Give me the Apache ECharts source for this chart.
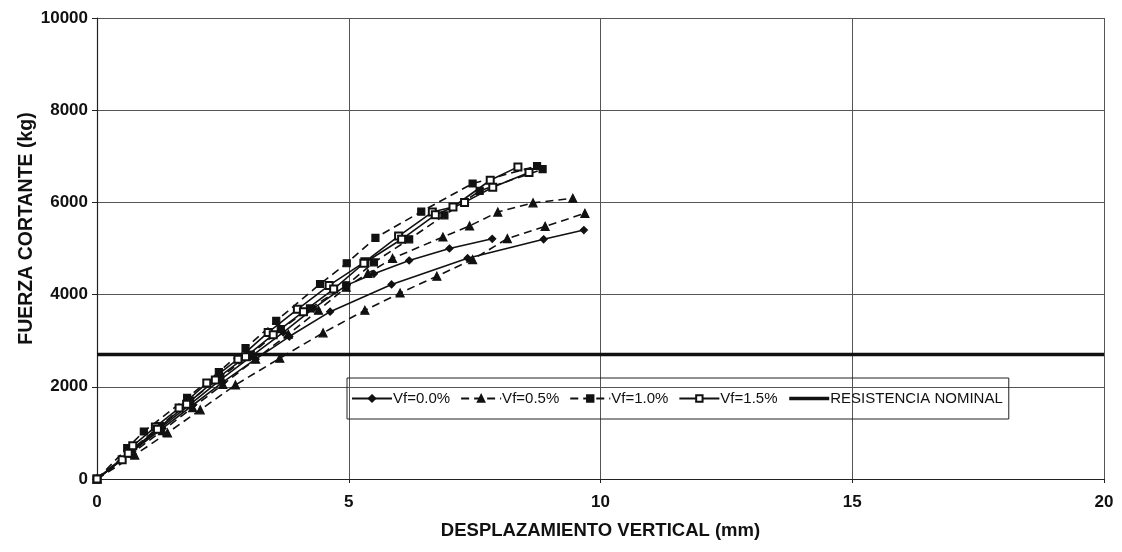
<!DOCTYPE html>
<html>
<head>
<meta charset="utf-8">
<script src="https://cdn.jsdelivr.net/npm/echarts@6/dist/echarts.min.js"></script>
<style>
  html, body { margin: 0; padding: 0; background: #fff; }
  #chart { width: 1122px; height: 552px; }
</style>
</head>
<body>
<div id="chart"></div>
<script>
// desplazamiento (mm), fuerza (kg) -- two specimens per fibre volume
var vf00a = [[0,0],[0.65,560],[1.25,1100],[1.85,1620],[2.45,2150],[3.05,2650],[3.7,3180],[4.3,3700],[4.95,4200],[5.5,4450],[6.2,4740],[7.0,5000],[7.85,5210]];
var vf00b = [[0,0],[0.7,600],[1.3,1100],[1.9,1600],[2.5,2100],[3.15,2600],[3.82,3090],[4.63,3630],[5.85,4220],[7.36,4790],[8.87,5200],[9.67,5400]];
var vf05a = [[0,0],[0.7,560],[1.3,1050],[1.9,1550],[2.5,2050],[3.15,2600],[3.8,3140],[4.4,3660],[4.95,4160],[5.38,4460],[5.87,4785],[6.87,5250],[7.4,5490],[7.96,5790],[8.66,5990],[9.45,6090]];
var vf05b = [[0,0],[0.75,520],[1.4,1000],[2.05,1500],[2.75,2040],[3.63,2620],[4.49,3170],[5.32,3660],[6.02,4035],[6.75,4400],[7.46,4760],[8.15,5215],[8.9,5480],[9.69,5763]];
var vf10a = [[0,0],[0.6,670],[0.93,1030],[1.79,1760],[2.42,2320],[2.95,2840],[3.56,3430],[4.43,4230],[4.96,4680],[5.53,5230],[6.44,5800],[7.46,6410],[8.74,6790]];
var vf10b = [[0,0],[0.65,600],[1.25,1150],[1.85,1700],[2.45,2200],[3.05,2700],[3.65,3250],[4.23,3700],[4.95,4200],[5.5,4700],[6.2,5200],[6.9,5720],[7.6,6250],[8.85,6720]];
var vf15a = [[0,0],[0.5,420],[0.71,720],[1.16,1130],[1.63,1540],[2.18,2080],[2.8,2600],[3.4,3180],[3.98,3680],[4.61,4200],[5.32,4710],[5.99,5270],[6.66,5790],[7.07,5900],[7.81,6480],[8.36,6770]];
var vf15b = [[0,0],[0.62,560],[1.2,1080],[1.78,1620],[2.35,2150],[2.95,2650],[3.5,3130],[4.1,3630],[4.7,4120],[5.3,4680],[6.05,5200],[6.72,5730],[7.3,6000],[7.86,6330],[8.58,6650]];
var nominal = [[0,2700],[20,2700]];

var names = ['Vf=0.0%', 'Vf=0.5%', 'Vf=1.0%', 'Vf=1.5%', 'RESISTENCIA NOMINAL'];

var chart = echarts.init(document.getElementById('chart'));

function curve(name, data, symbol, size, dashed) {
    return {
        name: name,
        type: 'line',
        data: data,
        symbol: symbol,
        symbolSize: size,
        showSymbol: true,
        z: 3,
        itemStyle: { color: '#111', borderColor: '#111', borderWidth: 1.2 },
        lineStyle: { color: '#111', width: 1.6, type: dashed ? [8, 5] : 'solid' }
    };
}

var font = 'Liberation Sans, Arial, sans-serif';

var option = {
    backgroundColor: '#fff',
    animation: false,
    grid: { left: 97, right: 18, top: 18, bottom: 73 },
    legend: {
        data: [
            names[0], names[1], names[2], names[3],
            { name: names[4], itemStyle: { opacity: 0 }, lineStyle: { width: 3.5, color: '#111' } }
        ],
        left: 347,
        top: 378,
        orient: 'horizontal',
        borderColor: '#222',
        borderWidth: 1,
        borderRadius: 0,
        padding: [13, 6, 13, 4],
        itemGap: 10,
        itemWidth: 40,
        itemHeight: 8,
        textStyle: { fontFamily: font, fontSize: 15, color: '#111', padding: [0, 0, 0, -4] }
    },
    xAxis: {
        type: 'value',
        min: 0, max: 20, interval: 5,
        name: 'DESPLAZAMIENTO VERTICAL (mm)',
        nameLocation: 'middle',
        nameGap: 42,
        nameTextStyle: { fontFamily: font, fontSize: 18.5, fontWeight: 'bold', color: '#111' },
        axisLine: { lineStyle: { color: '#222', width: 1.2 } },
        axisTick: { show: true, length: 4, lineStyle: { color: '#222' } },
        axisLabel: { margin: 15, fontFamily: font, fontSize: 17, fontWeight: 'bold', color: '#111' },
        splitLine: { show: true, lineStyle: { color: '#555', width: 1 } }
    },
    yAxis: {
        type: 'value',
        min: 0, max: 10000, interval: 2000,
        name: 'FUERZA CORTANTE (kg)',
        nameLocation: 'middle',
        nameMoveOverlap: false,
        nameGap: 60,
        nameTextStyle: { fontFamily: font, fontSize: 19.5, fontWeight: 'bold', color: '#111', padding: [0, 0, 0, 40] },
        axisLine: { show: true, lineStyle: { color: '#222', width: 1.2 } },
        axisTick: { show: true, length: 5, lineStyle: { color: '#222' } },
        axisLabel: {
            margin: 9, fontFamily: font, fontSize: 17, fontWeight: 'bold', color: '#111',
            formatter: function (v) { return String(v); }
        },
        splitLine: { show: true, lineStyle: { color: '#555', width: 1 } }
    },
    series: [
        curve(names[0], vf00a, 'diamond', 7, false),
        curve(names[0], vf00b, 'diamond', 7, false),
        curve(names[1], vf05a, 'triangle', 8, true),
        curve(names[1], vf05b, 'triangle', 8, true),
        curve(names[2], vf10a, 'rect', 7, true),
        curve(names[2], vf10b, 'rect', 7, true),
        curve(names[3], vf15a, 'emptyRect', 7, false),
        curve(names[3], vf15b, 'emptyRect', 7, false),
        {
            name: names[4],
            type: 'line',
            data: nominal,
            symbol: 'none',
            z: 2,
            itemStyle: { color: '#111' },
            lineStyle: { color: '#111', width: 3.5 }
        }
    ]
};

option && chart.setOption(option);
</script>
</body>
</html>
